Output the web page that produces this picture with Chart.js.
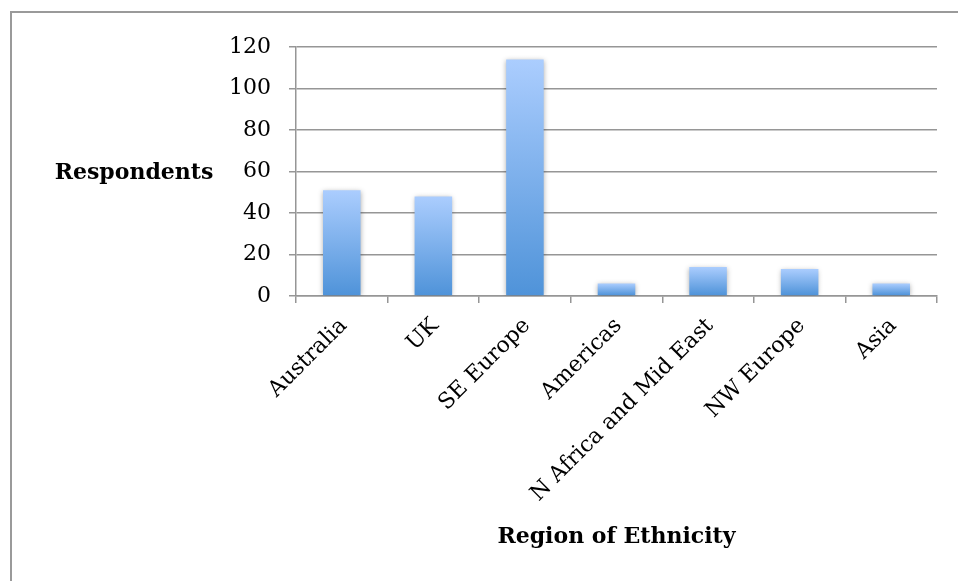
<!DOCTYPE html>
<html>
<head>
<meta charset="utf-8">
<script src="https://cdn.jsdelivr.net/npm/chart.js@4/dist/chart.umd.min.js"></script>
<style>
  html, body { margin: 0; padding: 0; background: #fff; }
  canvas { display: block; }
</style>
</head>
<body>
<canvas id="chart" width="958" height="581"></canvas>
<script>
// Respondents by region of ethnicity
const categories = ['Australia', 'UK', 'SE Europe', 'Americas', 'N Africa and Mid East', 'NW Europe', 'Asia'];
const respondents = [51, 48, 114, 6, 14, 13, 6];
const yTicks = [0, 20, 40, 60, 80, 100, 120];

const FONT = "'DejaVu Serif', serif";
const GRID = '#969696';
const BAR_TOP = '#abcdfe';
const BAR_BOTTOM = '#4f93d9';

// white page with a grey frame that runs off the right and bottom edges
const framePlugin = {
  id: 'frame',
  beforeDraw(chart) {
    const c = chart.ctx;
    c.save();
    c.fillStyle = '#ffffff';
    c.fillRect(0, 0, chart.width, chart.height);
    c.strokeStyle = '#9a9a9a';
    c.lineWidth = 2;
    c.strokeRect(11, 12, 1200, 1200);
    c.restore();
  }
};

// horizontal value-axis title placed left of the tick labels
const sideTitlePlugin = {
  id: 'sideTitle',
  afterDraw(chart) {
    const c = chart.ctx;
    const y = chart.scales.y;
    c.save();
    c.font = "bold 22px " + FONT;
    c.fillStyle = '#000';
    c.textAlign = 'center';
    c.textBaseline = 'middle';
    c.fillText('Respondents', 134, y.getPixelForValue(60) + 2);
    c.restore();
  }
};

// vertical gradient on each bar (from its top down to the baseline) plus a soft drop shadow
const barStylePlugin = {
  id: 'barStyle',
  beforeDatasetsDraw(chart) {
    const c = chart.ctx;
    chart.getDatasetMeta(0).data.forEach(bar => {
      if (!isFinite(bar.y) || !isFinite(bar.base)) return;
      const g = c.createLinearGradient(0, bar.y, 0, bar.base);
      g.addColorStop(0, BAR_TOP);
      g.addColorStop(1, BAR_BOTTOM);
      bar.options.backgroundColor = g;
    });
    c.save();
    c.shadowColor = 'rgba(0,0,0,0.32)';
    c.shadowBlur = 5;
    c.shadowOffsetX = 0;
    c.shadowOffsetY = 1;
  },
  afterDatasetsDraw(chart) {
    chart.ctx.restore();
  }
};

new Chart(document.getElementById('chart'), {
  type: 'bar',
  data: {
    labels: categories,
    datasets: [{
      data: respondents,
      // scriptable so every bar keeps its own options object
      backgroundColor: () => '#7fb2ee',
      borderWidth: 0,
      categoryPercentage: 1,
      barPercentage: 0.41
    }]
  },
  options: {
    responsive: false,
    devicePixelRatio: 1,
    animation: false,
    layout: { padding: { top: 47, right: 21, left: 0, bottom: 0 } },
    plugins: { legend: { display: false }, tooltip: { enabled: false } },
    scales: {
      y: {
        min: 0,
        max: 120,
        afterBuildTicks(scale) { scale.ticks = yTicks.map(v => ({ value: v })); },
        afterFit(scale) { scale.width = 296; },
        ticks: { color: '#000', font: { family: FONT, size: 22 }, padding: 18 },
        grid: { color: GRID, lineWidth: 1.5, tickLength: 7 },
        border: { display: true, color: GRID, width: 1.5 }
      },
      x: {
        afterFit(scale) { scale.height = 285; },
        ticks: {
          color: '#000',
          font: { family: FONT, size: 22 },
          minRotation: 45,
          maxRotation: 45,
          autoSkip: false,
          padding: 10,
          labelOffset: 2
        },
        grid: { offset: true, drawOnChartArea: false, color: GRID, lineWidth: 1.5, tickLength: 7 },
        border: { display: true, color: GRID, width: 1.5 },
        title: {
          display: true,
          text: 'Region of Ethnicity',
          color: '#000',
          font: { family: FONT, size: 22, weight: 'bold' },
          padding: { top: 0, bottom: 31 }
        }
      }
    }
  },
  plugins: [framePlugin, barStylePlugin, sideTitlePlugin]
});
</script>
</body>
</html>
